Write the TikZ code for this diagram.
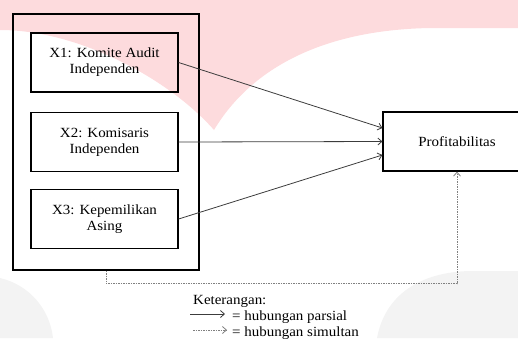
\documentclass[tikz,border=0pt]{standalone}
\usepackage{fontspec}
\setmainfont{Liberation Serif}[FakeStretch=1.07]
\usetikzlibrary{arrows.meta,calc}
\definecolor{wmpink}{RGB}{253,219,221}
\definecolor{wmgray}{RGB}{243,243,243}
\definecolor{linegray}{RGB}{60,60,60}
\begin{document}
\begin{tikzpicture}[x=1pt,y=-1pt,
  txt/.style={font=\fontsize{14}{16}\selectfont},
  box/.style={txt,draw=black,line width=1.2pt,minimum width=147pt,minimum height=59pt,inner sep=0pt,align=center},
  outerbox/.style={draw=black,line width=1.2pt,minimum width=186pt,minimum height=256pt,inner sep=0pt},
  arr/.style={draw=linegray,line width=0.8pt,-{Straight Barb[length=4pt,width=7pt]}},
  dasharr/.style={draw=gray,line width=0.8pt,dash pattern=on 1.5pt off 1pt,-{Straight Barb[length=4pt,width=7pt]}},
  legtxt/.style={txt,inner sep=0pt,anchor=base west}
]
\useasboundingbox (0,0) rectangle (518,338);
\clip (0,0) rectangle (518,338);
% watermark
\fill[wmpink] (0,0) -- (518,0) -- (518,28) -- (430,28) .. controls (320,30) and (250,70) .. (214,130) .. controls (170,80) and (80,30) .. (0,30) -- cycle;
\fill[wmgray] (0,278) .. controls (30,285) and (50,310) .. (53,338) -- (0,338) -- cycle;
\fill[wmgray] (377,338) .. controls (385,295) and (420,272) .. (470,271) -- (518,271) -- (518,338) -- cycle;
% nodes
\node[outerbox] (outer) at (106,142) {};
\node[box] (x1) at (104.5,62.5) {X1: Komite Audit\\Independen};
\node[box] (x2) at (104.5,142) {X2: Komisaris\\Independen};
\node[box] (x3) at (104.5,219) {X3: Kepemilikan\\Asing};
\node[box,minimum width=148pt] (p) at (457,141.5) {Profitabilitas};
% connectors
\draw[arr] (x1.east) -- ($(p.west)+(0,-13.5)$);
\draw[arr] (x2.east) -- (p.west);
\draw[arr] (x3.east) -- ($(p.west)+(0,13.5)$);
\draw[dasharr] (outer.south) -- ++(0,13) -| (p.south);
% legend
\node[legtxt] (ket) at (193,304) {Keterangan:};
\coordinate (a1s) at (190,314);
\coordinate (a1e) at (225,314);
\draw[arr] (a1s) -- (a1e);
\node[legtxt] (l1) at (232,320) {= hubungan parsial};
\coordinate (a2s) at (193,330);
\coordinate (a2e) at (227,330);
\draw[dasharr] (a2s) -- (a2e);
\node[legtxt] (l2) at (232,336) {= hubungan simultan};
\end{tikzpicture}
\end{document}
